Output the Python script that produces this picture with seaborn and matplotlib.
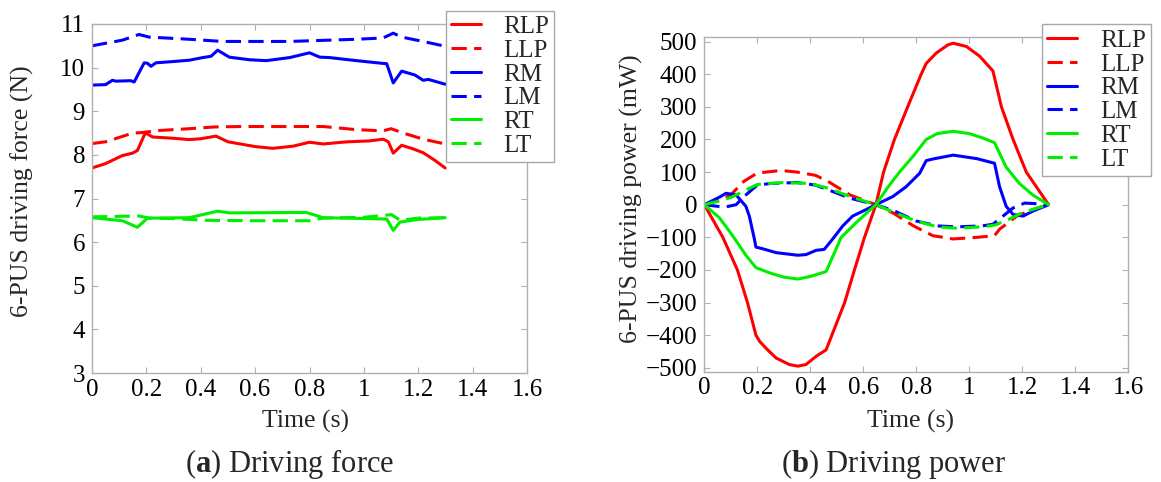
import matplotlib
matplotlib.use("Agg")
import matplotlib.pyplot as plt
import seaborn as sns
from matplotlib.ticker import FuncFormatter

# ---------------- data: (a) driving force (N) ----------------
t_rlp_f = [0, 0.05, 0.11, 0.149, 0.167, 0.192, 0.198, 0.223, 0.30, 0.358, 0.40, 0.456, 0.50, 0.60, 0.665, 0.74, 0.80, 0.85, 0.94, 1.02, 1.071, 1.09, 1.108, 1.139, 1.18, 1.218, 1.26, 1.299]
rlp_f = [7.70, 7.80, 7.98, 8.04, 8.10, 8.45, 8.50, 8.41, 8.38, 8.35, 8.37, 8.43, 8.30, 8.19, 8.15, 8.20, 8.29, 8.25, 8.30, 8.32, 8.36, 8.30, 8.04, 8.22, 8.14, 8.05, 7.88, 7.70]

t_llp_f = [0, 0.05, 0.10, 0.15, 0.18, 0.25, 0.358, 0.45, 0.55, 0.70, 0.85, 0.97, 1.07, 1.10, 1.145, 1.218, 1.299]
llp_f = [8.26, 8.30, 8.40, 8.50, 8.51, 8.56, 8.60, 8.64, 8.65, 8.65, 8.65, 8.58, 8.55, 8.60, 8.50, 8.36, 8.25]

t_rm_f = [0, 0.05, 0.075, 0.087, 0.143, 0.155, 0.192, 0.204, 0.217, 0.235, 0.30, 0.358, 0.407, 0.438, 0.462, 0.505, 0.58, 0.641, 0.727, 0.80, 0.838, 0.874, 0.973, 1.065, 1.084, 1.108, 1.139, 1.188, 1.218, 1.237, 1.299]
rm_f = [9.60, 9.61, 9.71, 9.69, 9.70, 9.67, 10.11, 10.10, 10.03, 10.11, 10.14, 10.17, 10.23, 10.26, 10.40, 10.24, 10.18, 10.16, 10.23, 10.34, 10.24, 10.23, 10.16, 10.10, 10.09, 9.65, 9.92, 9.83, 9.71, 9.73, 9.62]

t_lm_f = [0, 0.112, 0.173, 0.21, 0.358, 0.481, 0.727, 0.973, 1.071, 1.108, 1.139, 1.218, 1.299]
lm_f = [10.50, 10.63, 10.76, 10.70, 10.65, 10.60, 10.60, 10.65, 10.68, 10.79, 10.70, 10.60, 10.49]

t_rt_f = [0, 0.112, 0.167, 0.204, 0.358, 0.462, 0.505, 0.788, 0.85, 1.0, 1.084, 1.108, 1.133, 1.20, 1.299]
rt_f = [6.56, 6.49, 6.34, 6.55, 6.56, 6.71, 6.67, 6.68, 6.56, 6.54, 6.53, 6.27, 6.46, 6.52, 6.56]

t_lt_f = [0, 0.10, 0.173, 0.21, 0.30, 0.42, 0.60, 0.80, 0.85, 1.00, 1.102, 1.133, 1.20, 1.299]
lt_f = [6.58, 6.59, 6.60, 6.55, 6.54, 6.50, 6.49, 6.49, 6.55, 6.57, 6.63, 6.50, 6.55, 6.56]

# ---------------- data: (b) driving power (mW) ----------------
t_rlp_p = [0, 0.07, 0.125, 0.163, 0.195, 0.21, 0.233, 0.271, 0.321, 0.353, 0.384, 0.422, 0.46, 0.53, 0.567, 0.605, 0.648, 0.677, 0.718, 0.768, 0.819, 0.838, 0.876, 0.92, 0.94, 0.99, 1.04, 1.09, 1.122, 1.166, 1.216, 1.30]
rlp_p = [0, -100, -200, -300, -400, -420, -440, -470, -490, -495, -490, -465, -445, -300, -200, -100, 0, 100, 200, 300, 400, 433, 465, 490, 495, 485, 455, 410, 300, 200, 100, 0]

t_llp_p = [0, 0.05, 0.10, 0.15, 0.20, 0.29, 0.35, 0.42, 0.47, 0.55, 0.648, 0.712, 0.79, 0.863, 0.94, 1.03, 1.096, 1.115, 1.18, 1.24, 1.30]
llp_p = [0, 12, 30, 72, 97, 105, 100, 90, 70, 30, 0, -25, -65, -95, -105, -100, -95, -75, -35, -15, 0]

t_rm_p = [0, 0.057, 0.082, 0.12, 0.157, 0.17, 0.189, 0.195, 0.22, 0.271, 0.353, 0.384, 0.422, 0.453, 0.485, 0.523, 0.56, 0.611, 0.648, 0.712, 0.762, 0.813, 0.838, 0.863, 0.94, 1.03, 1.096, 1.115, 1.14, 1.166, 1.204, 1.24, 1.30]
rm_p = [0, 23, 35, 30, -5, -35, -105, -130, -135, -147, -155, -153, -140, -137, -105, -65, -35, -15, 0, 25, 55, 96, 135, 140, 152, 141, 127, 55, -5, -30, -35, -20, 0]

t_lm_p = [0, 0.05, 0.08, 0.12, 0.15, 0.20, 0.25, 0.35, 0.42, 0.47, 0.55, 0.648, 0.72, 0.80, 0.88, 0.95, 1.05, 1.09, 1.128, 1.166, 1.21, 1.254, 1.30]
lm_p = [0, -5, -7, 0, 25, 60, 65, 68, 60, 45, 20, 0, -20, -50, -65, -68, -65, -60, -35, -10, 5, 3, 0]

t_rt_p = [0, 0.057, 0.107, 0.157, 0.195, 0.25, 0.30, 0.353, 0.40, 0.46, 0.517, 0.58, 0.648, 0.69, 0.737, 0.79, 0.838, 0.88, 0.94, 1.00, 1.05, 1.096, 1.14, 1.19, 1.24, 1.30]
rt_p = [0, -40, -95, -155, -193, -210, -222, -228, -220, -205, -100, -50, 0, 50, 100, 150, 200, 218, 225, 218, 205, 190, 115, 65, 30, 0]

t_lt_p = [0, 0.05, 0.10, 0.15, 0.20, 0.30, 0.40, 0.47, 0.55, 0.648, 0.72, 0.80, 0.88, 0.95, 1.05, 1.10, 1.15, 1.20, 1.25, 1.30]
lt_p = [0, 10, 22, 42, 62, 68, 65, 50, 25, 0, -25, -50, -68, -72, -68, -62, -45, -25, -12, 0]

labels = ["RLP", "LLP", "RM", "LM", "RT", "LT"]
colors = ["#ff0000", "#ff0000", "#0000ff", "#0000ff", "#00ee00", "#00ee00"]
x_ticks = [0, 0.2, 0.4, 0.6, 0.8, 1.0, 1.2, 1.4, 1.6]
force_ticks = [3, 4, 5, 6, 7, 8, 9, 10, 11]
power_ticks = [-500, -400, -300, -200, -100, 0, 100, 200, 300, 400, 500]

# ---------------- style ----------------
sns.set_theme(style="ticks")
plt.rcParams["font.family"] = ["Liberation Serif", "DejaVu Serif"]
plt.rcParams["mathtext.fontset"] = "custom"
plt.rcParams["mathtext.rm"] = "Liberation Serif"
plt.rcParams["mathtext.bf"] = "Liberation Serif:bold"

SPINE = "#b0b0b0"
LW = 2.2
DASH = (0, (5.0, 2.4))

fig = plt.figure(figsize=(11.61, 4.82), dpi=100)
ax1 = fig.add_axes([92 / 1161, 1 - 373 / 482, 435 / 1161, 349 / 482])
ax2 = fig.add_axes([704.3 / 1161, 1 - 371.7 / 482, 423.7 / 1161, 335 / 482])

force_series = [(t_rlp_f, rlp_f), (t_llp_f, llp_f), (t_rm_f, rm_f),
                (t_lm_f, lm_f), (t_rt_f, rt_f), (t_lt_f, lt_f)]
power_series = [(t_rlp_p, rlp_p), (t_llp_p, llp_p), (t_rm_p, rm_p),
                (t_lm_p, lm_p), (t_rt_p, rt_p), (t_lt_p, lt_p)]

for ax, series in ((ax1, force_series), (ax2, power_series)):
    for i, ((tt, vv), lab, col) in enumerate(zip(series, labels, colors)):
        ls = "-" if i % 2 == 0 else DASH
        sns.lineplot(x=tt, y=vv, ax=ax, color=col, linewidth=LW,
                     linestyle=ls, label=lab, sort=False, estimator=None)

def style_axes(ax):
    ax.set_xlim(0, 1.6)
    ax.set_xticks(x_ticks)
    ax.xaxis.set_major_formatter(FuncFormatter(lambda v, p: f"{v:g}"))
    for s in ax.spines.values():
        s.set_color(SPINE)
        s.set_linewidth(1.0)
        s.set_visible(True)
    ax.tick_params(direction="in", top=True, right=True, length=4,
                   width=0.8, color=SPINE, labelsize=18, labelcolor="black")
    ax.tick_params(axis="x", pad=4)
    ax.tick_params(axis="y", pad=5)
    ax.grid(False)

style_axes(ax1)
style_axes(ax2)

ax1.set_ylim(3, 11)
ax1.set_yticks(force_ticks)
ax2.set_ylim(-512, 515)
ax2.set_yticks(power_ticks)

ax1.set_xlabel("Time (s)", fontsize=18.5)
ax1.set_ylabel("6-PUS driving force (N)", fontsize=18.5)
ax2.set_xlabel("Time (s)", fontsize=18.5)
ax2.set_ylabel("6-PUS driving power (mW)", fontsize=18.5)
ax1.xaxis.set_label_coords(0.49, -0.106)
ax2.xaxis.set_label_coords(0.487, -0.114)
ax1.yaxis.set_label_coords(-0.134, 0.52)
ax2.yaxis.set_label_coords(-0.145, 0.515)

def make_legend(ax, anchor):
    h, l = ax.get_legend_handles_labels()
    leg = ax.legend(h, l, loc="upper left", bbox_to_anchor=anchor,
                    bbox_transform=fig.transFigure, borderaxespad=0,
                    fontsize=18, frameon=True, fancybox=False,
                    framealpha=1, edgecolor="#a8a8a8", handlelength=1.2,
                    handletextpad=0.9, labelspacing=0.05, borderpad=0.2)
    leg.get_frame().set_linewidth(1.0)
    return leg

make_legend(ax1, (446 / 1161, 1 - 10.7 / 482))
make_legend(ax2, (1042.3 / 1161, 1 - 24.3 / 482))

fig.text(290 / 1161, 1 - 464 / 482, r"($\mathbf{a}$) Driving force",
         ha="center", va="center", fontsize=22)
fig.text(894 / 1161, 1 - 464 / 482, r"($\mathbf{b}$) Driving power",
         ha="center", va="center", fontsize=22)

fig.savefig("out.png", dpi=100)
